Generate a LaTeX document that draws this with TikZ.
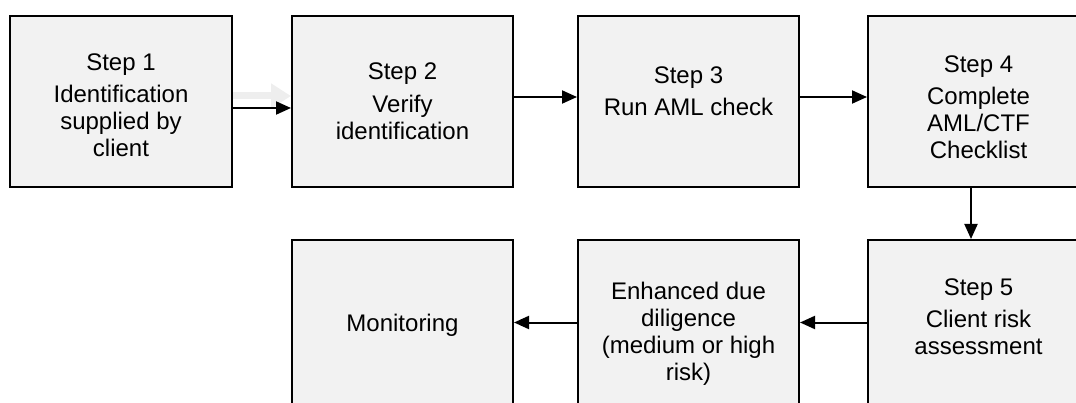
\documentclass[tikz,border=0pt]{standalone}
\usepackage{fontspec}
\setmainfont{Liberation Sans}
\usetikzlibrary{arrows.meta}
\definecolor{boxgray}{HTML}{F2F2F2}
\definecolor{ghostgray}{HTML}{EEEEEE}
% invisible struts to nudge text up (depth) or down (height)
\newcommand{\lowpad}[1]{\rule[-#1]{0pt}{0pt}}
\newcommand{\highpad}[1]{\rule{0pt}{#1}}
\begin{document}
\begin{tikzpicture}[x=1pt, y=-1pt, >={Triangle[length=15pt,width=13pt]},
	stepbox/.style={draw, line width=2pt, fill=boxgray, minimum width=221pt, minimum height=171pt, inner sep=0pt, align=center, font=\fontsize{24}{27}\selectfont},
	flow/.style={->, line width=2pt}]
	\useasboundingbox (0,0) rectangle (1076,403);
	\clip (0,0) rectangle (1076,403);
	% top row
	\node[stepbox, minimum width=222pt] (s1) at (121,101.5) {\highpad{25pt}Step 1\\[5pt]Identification\\supplied by\\client};
	\node[stepbox] (s2) at (402.5,101.5) {Step 2\\[6pt]Verify\\identification};
	\node[stepbox] (s3) at (688.5,101.5) {Step 3\\[5pt]Run AML check\lowpad{20pt}};
	\node[stepbox] (s4) at (978.5,101.5) {\highpad{29pt}Step 4\\[5pt]Complete\\AML/CTF\\Checklist};
	% bottom row
	\node[stepbox] (s5) at (978.5,325.5) {Step 5\\[5pt]Client risk\\assessment\lowpad{18pt}};
	\node[stepbox] (edd) at (688.5,325.5) {\highpad{33pt}Enhanced due\\diligence\\(medium or high\\risk)};
	\node[stepbox] (mon) at (402.5,325.5) {Monitoring};
	% connectors
	\draw[-{Triangle[length=20pt,width=24pt]}, line width=7pt, ghostgray] ([yshift=5.5pt]s1.east) -- ([yshift=5.5pt]s2.west);
	\draw[flow] ([yshift=-6.5pt]s1.east) -- ([yshift=-6.5pt]s2.west);
	\draw[flow] ([yshift=4.5pt]s2.east) -- ([yshift=4.5pt]s3.west);
	\draw[flow] ([yshift=4.5pt]s3.east) -- ([yshift=4.5pt]s4.west);
	\draw[flow] ([xshift=-7.5pt]s4.south) -- ([xshift=-7.5pt]s5.north);
	\draw[flow] ([yshift=3pt]s5.west) -- ([yshift=3pt]edd.east);
	\draw[flow] ([yshift=3pt]edd.west) -- ([yshift=3pt]mon.east);
\end{tikzpicture}
\end{document}
